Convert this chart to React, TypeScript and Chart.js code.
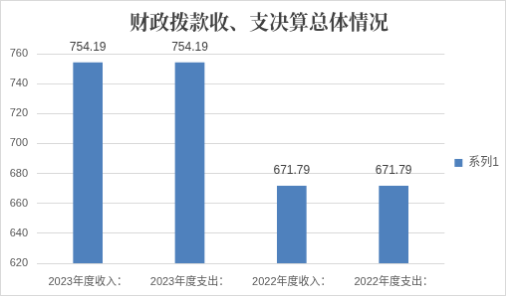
import React, { useEffect, useRef } from "react";
import { Chart, registerables } from "chart.js";

Chart.register(...registerables);

const categories = ["2023年度收入：", "2023年度支出：", "2022年度收入：", "2022年度支出："];
const seriesName = "系列1";
const values = [754.19, 754.19, 671.79, 671.79];
const yMin = 620;
const yMax = 760;
const yStep = 20;
const titleText = "财政拨款收、支决算总体情况";

const FONT = "'Liberation Sans', 'Noto Sans CJK SC', sans-serif";

const valueLabels = {
  id: "valueLabels",
  afterDatasetsDraw(chart: any) {
    const ctx = chart.ctx;
    ctx.save();
    ctx.font = `12px ${FONT}`;
    ctx.fillStyle = "#404040";
    ctx.textAlign = "center";
    ctx.textBaseline = "middle";
    chart.data.datasets.forEach((ds: any, di: number) => {
      const meta = chart.getDatasetMeta(di);
      meta.data.forEach((bar: any, i: number) => {
        ctx.fillText(Number(ds.data[i]).toFixed(2), bar.x, bar.y - 15);
      });
    });
    ctx.restore();
  },
};

export default function App() {
  const ref = useRef<HTMLCanvasElement>(null);
  useEffect(() => {
    document.body.style.margin = "0";
    const chart = new Chart(ref.current!, {
      type: "bar",
      data: {
        labels: categories,
        datasets: [
          {
            label: seriesName,
            data: values,
            backgroundColor: "#4F81BD",
            categoryPercentage: 1,
            barPercentage: 0.29,
          },
        ],
      },
      options: {
        responsive: false,
        animation: false,
        layout: { padding: { left: 8, right: -4, top: 0, bottom: 0 } },
        plugins: {
          title: {
            display: true,
            text: titleText,
            color: "#404040",
            font: { size: 20, weight: "bold", family: "'Noto Serif CJK SC', 'Noto Sans CJK SC', serif", lineHeight: 1.2 },
            padding: { top: 9, bottom: 20 },
          },
          legend: {
            position: "right",
            title: { display: true, text: " ", font: { size: 5 }, padding: { top: 24, bottom: 0 } },
            labels: {
              boxWidth: 8,
              boxHeight: 8,
              color: "#595959",
              font: { size: 12, family: FONT },
              padding: 10,
            },
          },
          tooltip: { enabled: false },
        },
        scales: {
          x: {
            grid: { display: false, drawTicks: false },
            border: { display: false },
            ticks: { color: "#595959", font: { size: 11, family: FONT }, padding: 12, maxRotation: 0 },
            afterFit: (s: any) => { s.height = 32; },
          },
          y: {
            min: yMin,
            max: yMax,
            ticks: { stepSize: yStep, color: "#595959", font: { size: 11, family: FONT }, padding: 9 },
            grid: { color: "#D9D9D9", drawTicks: false },
            border: { display: false },
            afterFit: (s: any) => { s.width = 28; },
          },
        },
      },
      plugins: [valueLabels],
    });
    return () => chart.destroy();
  }, []);
  return (
    <canvas
      ref={ref}
      width={506}
      height={296}
      style={{ display: "block", border: "1px solid #D9D9D9", width: 506, height: 296 }}
    />
  );
}
